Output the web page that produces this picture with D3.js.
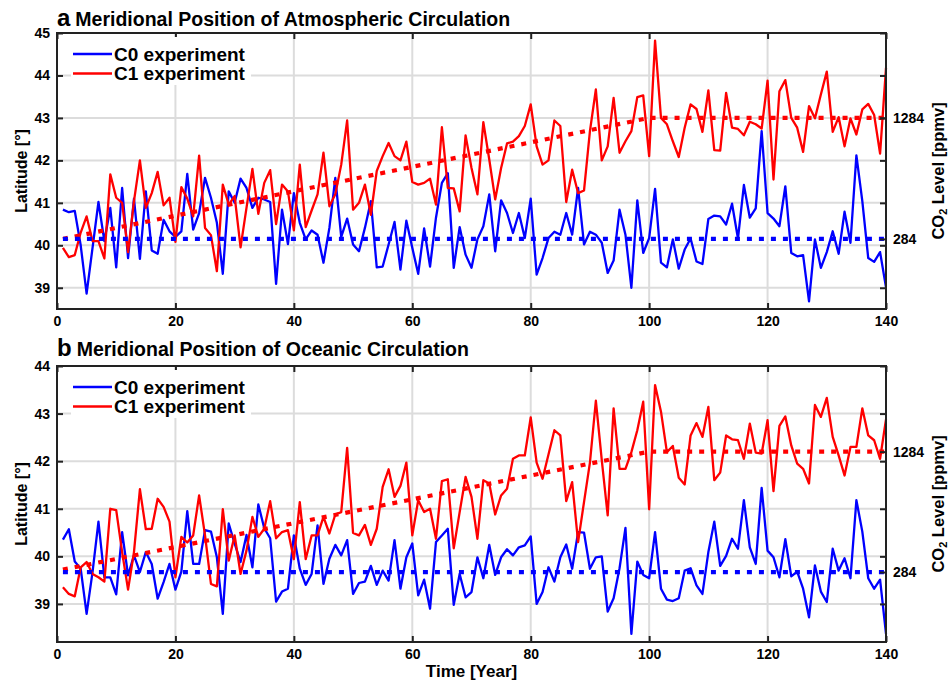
<!DOCTYPE html>
<html>
<head>
<meta charset="utf-8">
<script src="https://cdn.jsdelivr.net/npm/d3@7/dist/d3.min.js"></script>
<style>
  body { margin: 0; background: #fff; }
  svg text { font-family: "Liberation Sans", Arial, Helvetica, sans-serif; font-weight: bold; fill: #000; }
</style>
</head>
<body>
<div id="chart"></div>
<script>
// Years 1..140
const years = d3.range(1, 141);

// Panel a: atmospheric circulation latitude
const atmC0 = [40.84,40.78,40.81,40.0,38.86,39.94,41.02,40.1,40.88,39.48,
  41.35,39.7,41.1,39.68,41.27,39.88,39.8,40.6,40.33,40.2,
  40.33,41.68,40.37,40.76,41.59,41.12,40.53,39.33,41.27,41.0,
  41.57,41.35,40.88,41.12,41.08,41.02,39.09,40.84,40.03,41.23,
  40.53,40.14,40.35,40.25,39.59,40.41,41.59,40.2,40.63,40.02,
  39.86,40.41,41.04,39.48,39.5,40.02,40.55,39.43,40.58,39.94,
  39.33,40.4,39.5,40.65,41.47,41.7,39.47,40.43,39.78,39.47,
  40.14,40.45,41.2,39.86,41.06,40.76,40.29,40.76,40.17,41.1,
  39.31,39.7,40.17,40.32,40.25,40.76,40.25,41.35,40.02,40.32,
  40.25,40.06,39.35,39.64,40.84,40.25,39.0,41.06,39.82,40.17,
  41.33,39.59,39.48,40.14,39.45,39.9,40.16,39.62,39.56,40.62,
  40.7,40.68,40.49,40.98,40.16,41.42,40.65,40.87,42.69,40.76,
  40.63,40.45,41.39,39.82,39.74,39.77,38.68,40.14,39.47,39.84,
  40.33,39.8,40.79,40.06,42.12,41.04,39.7,39.61,39.84,39.01];

const atmC1 = [39.94,39.72,39.77,40.3,40.68,40.1,40.1,39.69,41.67,41.12,
  41.0,39.84,41.04,42.0,40.88,41.23,41.73,40.94,41.12,40.08,
  41.37,41.1,40.68,42.11,40.41,40.24,39.39,41.43,40.96,41.16,
  39.95,40.88,41.8,40.74,41.47,41.77,40.5,41.43,41.27,40.35,
  41.9,40.43,40.82,41.2,42.18,40.92,41.2,41.9,42.94,40.84,
  41.0,41.43,40.72,41.75,42.1,42.41,42.1,42.0,42.44,41.49,
  41.43,41.47,41.57,40.96,42.78,41.35,41.34,40.8,42.59,41.82,
  41.2,42.9,42.02,41.08,41.82,42.4,42.44,42.57,42.81,43.32,
  42.33,41.9,42.0,42.94,42.81,41.02,41.78,41.23,41.29,42.69,
  43.67,42.0,42.33,43.47,42.18,42.45,42.69,43.49,43.53,42.1,
  44.82,43.0,42.85,42.45,42.08,42.77,43.32,43.21,42.67,43.65,
  42.24,42.23,43.59,42.77,42.74,42.59,42.91,42.85,42.75,43.88,
  41.55,43.63,43.89,43.0,42.77,42.2,43.28,42.99,43.55,44.09,
  42.67,43.02,42.33,42.99,42.61,43.2,43.33,43.07,42.16,44.18];

// Panel b: oceanic circulation latitude
const ocnC0 = [40.35,40.57,39.89,39.74,38.79,39.67,40.73,39.56,39.56,39.2,
  40.51,39.6,40.02,39.67,40.09,39.84,39.11,39.46,39.84,39.3,
  39.68,40.95,39.84,39.84,40.55,40.52,39.98,38.79,40.69,40.27,
  39.88,40.45,39.77,41.09,40.59,40.38,39.05,39.26,39.32,40.44,
  39.74,39.4,39.63,40.65,39.42,39.95,40.24,40.02,40.34,39.21,
  39.44,39.47,39.8,39.4,39.7,39.49,40.34,39.32,39.98,40.27,
  39.18,39.51,38.9,40.3,40.44,40.58,38.98,39.63,39.14,39.25,
  39.98,39.54,40.24,39.61,39.98,40.15,40.02,40.19,40.23,40.42,
  39.0,39.25,39.77,39.47,39.98,40.25,39.74,40.51,40.5,39.74,
  39.98,40.0,38.84,39.12,39.75,40.6,38.37,39.89,39.61,39.54,
  40.51,39.32,39.09,39.06,39.12,39.7,39.75,39.39,39.21,40.09,
  40.73,39.8,40.01,40.37,40.16,41.18,40.19,39.84,41.44,40.12,
  39.98,39.56,40.36,39.58,39.68,39.32,38.72,39.81,39.26,39.04,
  40.16,39.7,39.96,39.54,41.18,40.52,39.54,39.32,39.51,38.37];

const ocnC1 = [39.35,39.21,39.16,39.77,39.88,39.63,39.56,39.47,41.0,40.97,
  40.09,39.3,40.09,41.41,40.57,40.58,41.21,41.04,40.73,39.56,
  40.41,40.29,40.44,41.28,40.44,39.42,39.37,40.99,39.91,40.44,
  39.63,40.12,40.83,40.41,40.58,41.16,40.38,40.51,40.55,39.94,
  41.14,39.94,40.44,40.44,40.83,40.48,40.88,40.93,42.28,40.49,
  40.44,40.66,40.24,40.58,41.46,41.83,41.25,41.48,41.97,40.44,
  41.18,40.93,41.0,40.37,41.58,41.62,40.17,40.93,41.67,41.25,
  40.37,41.6,41.53,40.88,41.28,41.42,42.05,42.12,42.12,42.92,
  41.97,41.63,42.14,42.65,42.54,41.16,41.56,40.3,41.14,41.97,
  43.27,42.02,40.86,43.11,41.84,41.84,42.19,42.65,43.25,40.99,
  43.6,43.04,42.19,42.32,41.65,41.51,42.54,42.8,42.51,43.14,
  41.6,41.76,42.54,42.46,42.44,42.05,42.79,42.18,42.16,42.86,
  41.37,42.74,42.94,42.33,41.95,41.84,41.53,43.18,42.93,43.33,
  42.51,42.12,41.7,42.3,42.3,43.11,42.54,42.44,42.05,42.88];

// CO2 forcing curves (dotted), breakpoints in years
const co2Years = [1, 100, 140];
const atmC0Co2 = [40.15, 40.15, 40.15];
const atmC1Co2 = [40.15, 43.0, 43.0];
const ocnC0Co2 = [39.67, 39.67, 39.67];
const ocnC1Co2 = [39.72, 42.2, 42.2];
const co2Ticks = [284, 1284];

const xTicks = [0, 20, 40, 60, 80, 100, 120, 140];
const atmYTicks = [39, 40, 41, 42, 43, 44, 45];
const ocnYTicks = [39, 40, 41, 42, 43, 44];

const width = 952, height = 682;
const left = 57, right = 886;
const blue = "#0000ff", red = "#ff0000";

const svg = d3.select("#chart").append("svg")
  .attr("width", width)
  .attr("height", height);

const x = d3.scaleLinear().domain([0, 140]).range([left, right]);

function drawPanel(p) {
  const y = d3.scaleLinear().domain(p.yDomain).range([p.bottom, p.top]);
  // map CO2 ppmv onto the latitude axis via the two forcing levels
  const co2 = d3.scaleLinear().domain(co2Ticks)
    .range([y(p.c0Co2[0]), y(p.c1Co2[2])]);
  const g = svg.append("g");

  // grid
  g.append("g").selectAll("line").data(xTicks.slice(1, -1)).join("line")
    .attr("x1", d => x(d)).attr("x2", d => x(d))
    .attr("y1", p.top).attr("y2", p.bottom)
    .attr("stroke", "#dcdcdc").attr("stroke-width", 2);
  g.append("g").selectAll("line").data(p.yTicks.filter(d => d > p.yDomain[0] && d < p.yDomain[1])).join("line")
    .attr("x1", left).attr("x2", right)
    .attr("y1", d => y(d)).attr("y2", d => y(d))
    .attr("stroke", "#dcdcdc").attr("stroke-width", 2);

  const line = d3.line().x((d, i) => x(years[i])).y(d => y(d));
  const co2Line = d3.line().x((d, i) => x(co2Years[i])).y(d => y(d));

  g.append("path").datum(p.c0).attr("d", line)
    .attr("fill", "none").attr("stroke", blue).attr("stroke-width", 2.3).attr("stroke-linejoin", "round");
  g.append("path").datum(p.c1).attr("d", line)
    .attr("fill", "none").attr("stroke", red).attr("stroke-width", 2.3).attr("stroke-linejoin", "round");

  g.append("path").datum(p.c1Co2).attr("d", co2Line)
    .attr("fill", "none").attr("stroke", red).attr("stroke-width", 4.2).attr("stroke-dasharray", "5,7");
  g.append("path").datum(p.c0Co2).attr("d", co2Line)
    .attr("fill", "none").attr("stroke", blue).attr("stroke-width", 4.2).attr("stroke-dasharray", "5,7");

  // axes with inward ticks
  const styleAxis = a => {
    a.select(".domain").remove();
    a.selectAll(".tick line").attr("stroke", "#222").attr("stroke-width", 2);
    a.selectAll(".tick text").style("font-size", "14px");
  };
  g.append("g").attr("transform", `translate(0,${p.bottom})`)
    .call(d3.axisBottom(x).tickValues(xTicks).tickSize(-6).tickPadding(7).tickFormat(d3.format("d")))
    .call(styleAxis);
  g.append("g").attr("transform", `translate(0,${p.top})`)
    .call(d3.axisTop(x).tickValues(xTicks).tickSize(-6).tickFormat(""))
    .call(styleAxis);
  g.append("g").attr("transform", `translate(${left},0)`)
    .call(d3.axisLeft(y).tickValues(p.yTicks).tickSize(-6).tickPadding(7).tickFormat(d3.format("d")))
    .call(styleAxis);
  g.append("g").attr("transform", `translate(${right},0)`)
    .call(d3.axisRight(y).tickValues(p.yTicks).tickSize(-6).tickFormat(""))
    .call(styleAxis);
  g.append("g").attr("transform", `translate(${right},0)`)
    .call(d3.axisRight(co2).tickValues(co2Ticks).tickSize(-6).tickPadding(7).tickFormat(d3.format("d")))
    .call(styleAxis);

  g.append("rect")
    .attr("x", left).attr("y", p.top)
    .attr("width", right - left).attr("height", p.bottom - p.top)
    .attr("fill", "none").attr("stroke", "#222").attr("stroke-width", 2);

  // title
  const t = g.append("text").attr("x", left).attr("y", p.titleY);
  t.append("tspan").style("font-size", "24px").text(p.letter);
  t.append("tspan").attr("dx", 5).style("font-size", "19.5px").text(p.title);

  // legend
  const lg = g.append("g");
  lg.append("rect").attr("x", 71).attr("y", p.top + 4).attr("width", 180).attr("height", 48).attr("fill", "#fff");
  [["C0 experiment", blue], ["C1 experiment", red]].forEach(([name, col], i) => {
    const ly = p.top + 21 + i * 19.5;
    lg.append("line").attr("x1", 73).attr("x2", 112).attr("y1", ly).attr("y2", ly)
      .attr("stroke", col).attr("stroke-width", 2.3);
    lg.append("text").attr("x", 114).attr("y", ly).attr("dy", "0.36em")
      .style("font-size", "19px").text(name);
  });

  // axis titles
  const cy = (p.top + p.bottom) / 2;
  g.append("text").attr("transform", `translate(27,${cy}) rotate(-90)`)
    .attr("text-anchor", "middle").style("font-size", "16px").text("Latitude [\u00b0]");
  const ct = g.append("text").attr("transform", `translate(944,${cy}) rotate(-90)`)
    .attr("text-anchor", "middle").style("font-size", "16.5px");
  ct.append("tspan").text("CO");
  ct.append("tspan").attr("dy", 3).style("font-size", "11px").text("2");
  ct.append("tspan").attr("dy", -3).text(" Level [ppmv]");
}

drawPanel({
  letter: "a", title: "Meridional Position of Atmospheric Circulation",
  top: 33, bottom: 309, titleY: 26, yDomain: [38.5, 45], yTicks: atmYTicks,
  c0: atmC0, c1: atmC1, c0Co2: atmC0Co2, c1Co2: atmC1Co2
});
drawPanel({
  letter: "b", title: "Meridional Position of Oceanic Circulation",
  top: 366, bottom: 642, titleY: 356, yDomain: [38.2, 44], yTicks: ocnYTicks,
  c0: ocnC0, c1: ocnC1, c0Co2: ocnC0Co2, c1Co2: ocnC1Co2
});

svg.append("text").attr("x", (left + right) / 2).attr("y", 677)
  .attr("text-anchor", "middle").style("font-size", "17px").text("Time [Year]");
</script>
</body>
</html>
